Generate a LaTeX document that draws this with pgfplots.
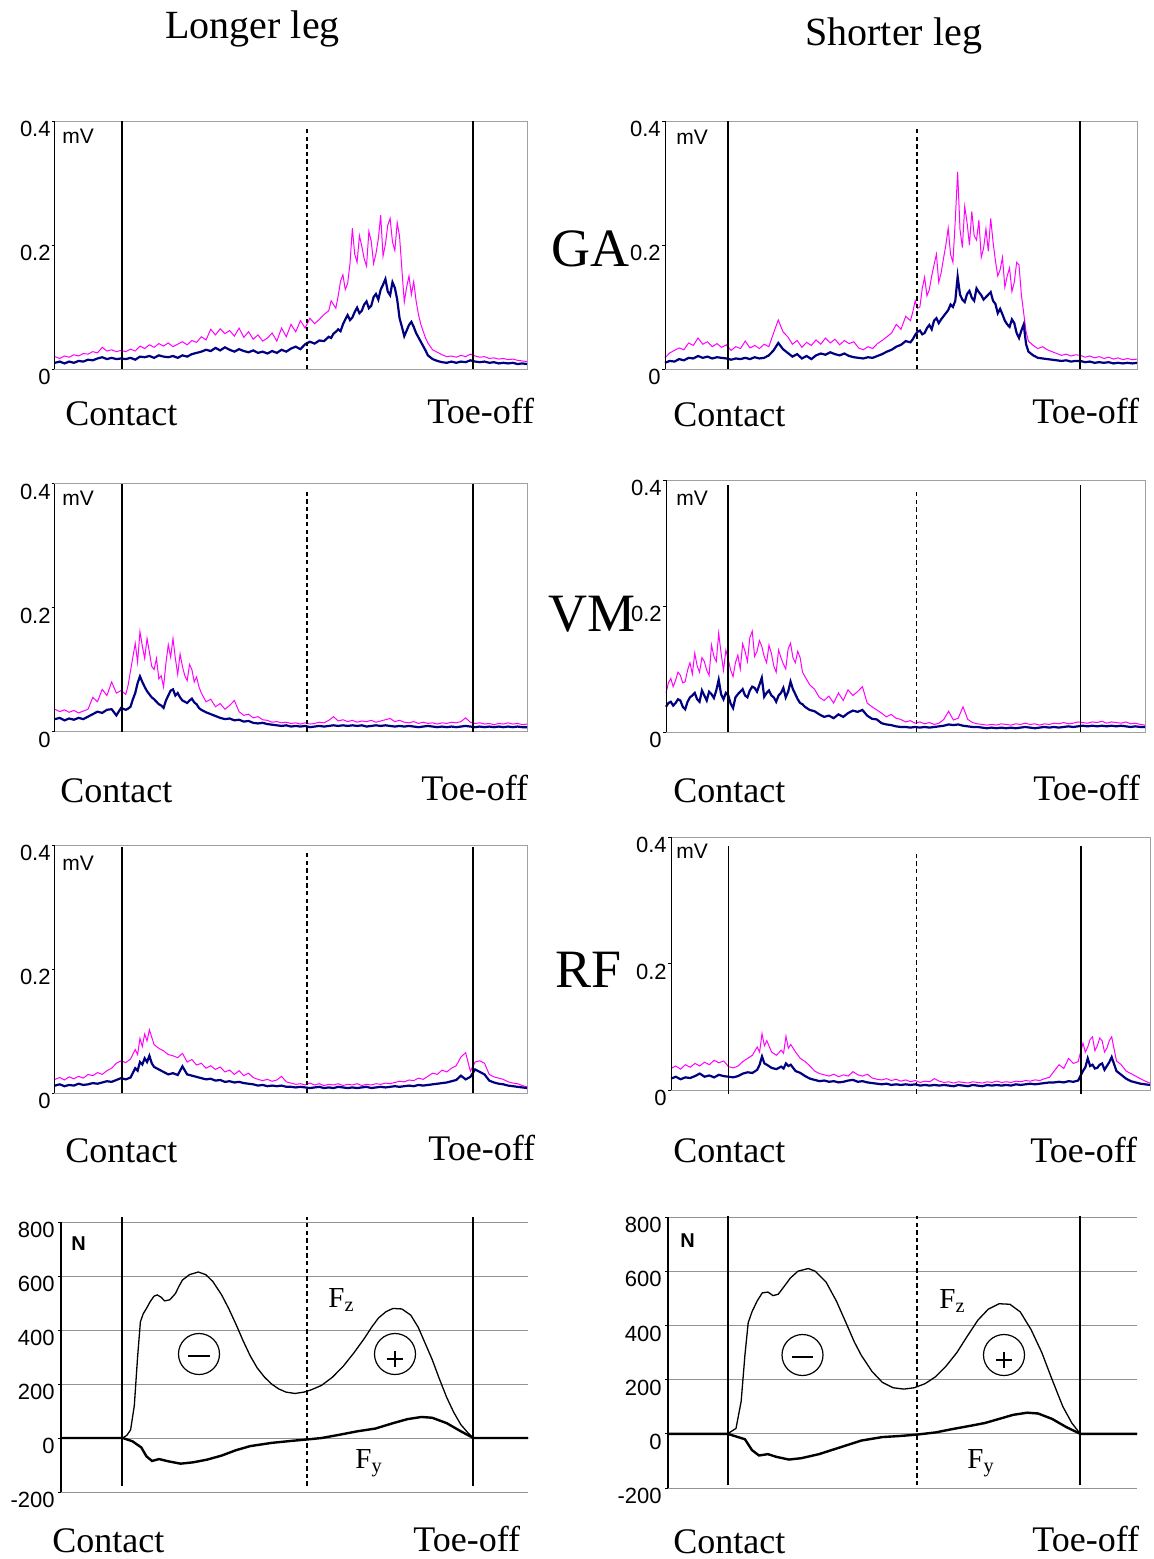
\documentclass[border=0pt]{standalone}
\usepackage{fontspec}
\setmainfont{Liberation Serif}
\newfontfamily\arial{Liberation Sans}
\usepackage{pgfplots}
\usepackage{pgfplotstable}
\pgfplotsset{compat=1.18}
\definecolor{navy}{RGB}{0,0,128}
\definecolor{emgpink}{RGB}{255,0,255}
\definecolor{framegray}{RGB}{160,160,160}

% EMG envelopes, x = % of panel width, m = magenta trace, n = navy trace (mV)
\pgfplotstableread{
x m n
0 0.020 0.010
1 0.017 0.012
2 0.021 0.009
3 0.019 0.012
4 0.023 0.010
5 0.021 0.013
6 0.025 0.012
7 0.024 0.015
8 0.028 0.014
9 0.026 0.017
10 0.035 0.019
11 0.029 0.016
12 0.031 0.018
13 0.028 0.016
14 0.030 0.017
15 0.028 0.016
16 0.032 0.018
17 0.029 0.015
18 0.037 0.020
19 0.033 0.019
20 0.039 0.021
21 0.035 0.018
22 0.041 0.022
23 0.037 0.020
24 0.042 0.019
25 0.036 0.021
26 0.040 0.018
27 0.044 0.022
28 0.039 0.020
29 0.046 0.024
30 0.043 0.026
31 0.052 0.028
32 0.047 0.031
33 0.064 0.029
34 0.055 0.034
35 0.065 0.030
36 0.057 0.035
37 0.062 0.031
38 0.053 0.028
39 0.066 0.032
40 0.051 0.029
41 0.060 0.027
42 0.048 0.030
43 0.055 0.026
44 0.045 0.028
45 0.050 0.025
46 0.058 0.029
47 0.045 0.026
48 0.066 0.031
49 0.052 0.028
50 0.072 0.033
51 0.060 0.036
52 0.078 0.032
53 0.066 0.040
54 0.082 0.044
55 0.073 0.041
56 0.080 0.046
57 0.088 0.045
58 0.094 0.052
58.5 0.110 0.050
59 0.104 0.057
59.5 0.098 0.060
60 0.118 0.064
60.5 0.142 0.061
61 0.152 0.072
61.5 0.128 0.080
62 0.138 0.087
62.5 0.170 0.079
63 0.227 0.083
63.5 0.185 0.092
64 0.172 0.099
64.5 0.215 0.090
65 0.198 0.094
65.5 0.178 0.104
66 0.166 0.109
66.5 0.222 0.098
67 0.206 0.102
67.5 0.170 0.116
68 0.186 0.121
68.5 0.210 0.112
69 0.248 0.128
69.5 0.182 0.136
70 0.201 0.145
70.5 0.232 0.125
71 0.243 0.119
71.5 0.205 0.140
72 0.191 0.131
72.5 0.236 0.112
73 0.214 0.082
73.5 0.160 0.068
74 0.108 0.053
74.5 0.132 0.062
75 0.150 0.071
75.5 0.120 0.076
76 0.141 0.068
76.5 0.110 0.058
77 0.088 0.051
77.5 0.072 0.044
78 0.061 0.037
78.5 0.050 0.030
79 0.042 0.022
80 0.031 0.016
81 0.027 0.013
82 0.023 0.011
83 0.020 0.010
84 0.021 0.012
85 0.019 0.010
86 0.022 0.012
87 0.020 0.011
88 0.024 0.014
89 0.021 0.012
90 0.019 0.011
91 0.020 0.012
92 0.017 0.010
93 0.018 0.011
94 0.016 0.009
95 0.017 0.010
96 0.015 0.009
97 0.016 0.010
98 0.014 0.008
99 0.013 0.009
100 0.012 0.008
}\gaL

\pgfplotstableread{
x m n
0 0.018 0.010
1 0.026 0.013
2 0.030 0.012
3 0.034 0.016
4 0.031 0.014
5 0.042 0.018
6 0.038 0.017
7 0.050 0.021
8 0.040 0.018
9 0.044 0.020
10 0.036 0.017
11 0.041 0.019
12 0.035 0.018
13 0.039 0.017
14 0.030 0.015
15 0.036 0.017
16 0.033 0.016
17 0.045 0.018
18 0.034 0.016
19 0.038 0.019
20 0.033 0.017
21 0.040 0.018
22 0.036 0.022
23 0.058 0.030
24 0.079 0.042
25 0.060 0.032
26 0.052 0.026
27 0.040 0.020
28 0.046 0.024
29 0.035 0.017
30 0.043 0.021
31 0.038 0.016
32 0.047 0.022
33 0.040 0.025
34 0.050 0.023
35 0.042 0.027
36 0.048 0.024
37 0.039 0.022
38 0.046 0.025
39 0.041 0.021
40 0.044 0.019
41 0.034 0.018
42 0.031 0.017
43 0.036 0.019
44 0.033 0.018
45 0.041 0.021
46 0.046 0.024
47 0.052 0.028
48 0.058 0.031
49 0.072 0.036
50 0.064 0.039
51 0.085 0.045
52 0.078 0.043
52.5 0.092 0.048
53 0.110 0.055
53.5 0.098 0.060
54 0.100 0.062
54.5 0.130 0.056
55 0.148 0.058
55.5 0.118 0.066
56 0.128 0.071
56.5 0.150 0.064
57 0.168 0.078
57.5 0.185 0.082
58 0.140 0.074
58.5 0.155 0.080
59 0.178 0.085
59.5 0.200 0.090
60 0.227 0.095
60.5 0.185 0.104
61 0.172 0.100
61.5 0.240 0.110
62 0.318 0.149
62.5 0.225 0.120
63 0.196 0.112
63.5 0.262 0.108
64 0.236 0.121
64.5 0.200 0.126
65 0.254 0.115
65.5 0.215 0.110
66 0.208 0.130
66.5 0.240 0.124
67 0.180 0.119
67.5 0.195 0.112
68 0.226 0.116
68.5 0.190 0.120
69 0.243 0.124
69.5 0.205 0.110
70 0.175 0.105
70.5 0.150 0.090
71 0.160 0.097
71.5 0.180 0.088
72 0.132 0.078
72.5 0.150 0.072
73 0.163 0.068
73.5 0.125 0.080
74 0.140 0.074
74.5 0.172 0.058
75 0.168 0.050
75.5 0.120 0.062
76 0.090 0.072
76.5 0.060 0.040
77 0.045 0.028
78 0.038 0.022
79 0.033 0.018
80 0.036 0.017
81 0.031 0.016
82 0.028 0.015
83 0.025 0.014
84 0.022 0.013
85 0.024 0.014
86 0.021 0.012
87 0.023 0.013
88 0.022 0.013
89 0.019 0.011
90 0.021 0.012
91 0.018 0.010
92 0.020 0.011
93 0.017 0.010
94 0.019 0.011
95 0.016 0.009
96 0.018 0.010
97 0.015 0.009
98 0.017 0.010
99 0.015 0.009
100 0.016 0.010
}\gaR

\pgfplotstableread{
x m n
0 0.036 0.020
1 0.032 0.022
2 0.035 0.018
3 0.031 0.021
4 0.034 0.019
5 0.030 0.022
6 0.033 0.020
7 0.036 0.024
8 0.055 0.028
9 0.048 0.032
10 0.068 0.030
11 0.058 0.035
12 0.080 0.036
13 0.062 0.026
14 0.066 0.038
15 0.060 0.035
15.5 0.075 0.037
16 0.098 0.040
16.5 0.120 0.052
17 0.142 0.062
17.5 0.112 0.078
18 0.161 0.089
18.5 0.138 0.080
19 0.118 0.072
19.5 0.150 0.065
20 0.128 0.060
20.5 0.105 0.055
21 0.100 0.052
21.5 0.118 0.048
22 0.085 0.044
22.5 0.090 0.042
23 0.072 0.038
23.5 0.110 0.050
24 0.140 0.058
24.5 0.120 0.066
25 0.150 0.068
25.5 0.118 0.058
26 0.092 0.062
26.5 0.125 0.055
27 0.105 0.050
27.5 0.090 0.048
28 0.082 0.046
28.5 0.108 0.050
29 0.100 0.053
29.5 0.080 0.047
30 0.088 0.044
30.5 0.072 0.038
31 0.062 0.035
32 0.048 0.031
33 0.052 0.028
34 0.040 0.025
35 0.045 0.022
36 0.036 0.020
37 0.042 0.021
38 0.050 0.018
39 0.032 0.019
40 0.026 0.016
41 0.028 0.017
42 0.022 0.014
43 0.024 0.013
44 0.019 0.014
45 0.018 0.012
46 0.015 0.011
47 0.016 0.010
48 0.014 0.009
49 0.015 0.010
50 0.013 0.008
51 0.014 0.009
52 0.012 0.008
53 0.014 0.009
54 0.012 0.007
55 0.013 0.008
56 0.015 0.009
57 0.014 0.008
58 0.018 0.009
59 0.024 0.010
60 0.017 0.009
61 0.019 0.010
62 0.016 0.009
63 0.018 0.010
64 0.015 0.009
65 0.017 0.010
66 0.016 0.008
67 0.018 0.009
68 0.015 0.010
69 0.017 0.009
70 0.019 0.010
71 0.021 0.009
72 0.016 0.008
73 0.018 0.009
74 0.015 0.008
75 0.014 0.009
76 0.016 0.008
77 0.013 0.007
78 0.015 0.008
79 0.013 0.009
80 0.014 0.008
81 0.012 0.007
82 0.014 0.008
83 0.013 0.007
84 0.015 0.008
85 0.014 0.007
86 0.016 0.008
87 0.022 0.009
88 0.015 0.008
89 0.013 0.007
90 0.014 0.008
91 0.012 0.007
92 0.013 0.008
93 0.011 0.007
94 0.013 0.008
95 0.012 0.007
96 0.014 0.008
97 0.012 0.007
98 0.013 0.008
99 0.011 0.007
100 0.012 0.007
}\vmL

\pgfplotstableread{
x m n
0 0.062 0.040
0.5 0.078 0.046
1 0.085 0.048
1.5 0.072 0.042
2 0.082 0.046
2.5 0.095 0.052
3 0.090 0.050
3.5 0.078 0.040
4 0.080 0.036
4.5 0.098 0.048
5 0.110 0.055
5.5 0.092 0.058
6 0.125 0.062
6.5 0.105 0.052
7 0.095 0.048
7.5 0.118 0.066
8 0.112 0.058
8.5 0.098 0.050
9 0.090 0.064
9.5 0.138 0.060
10 0.120 0.054
10.5 0.112 0.066
11 0.157 0.083
11.5 0.125 0.060
12 0.098 0.052
12.5 0.130 0.062
13 0.115 0.058
13.5 0.098 0.045
14 0.088 0.038
14.5 0.110 0.055
15 0.122 0.060
15.5 0.100 0.064
16 0.140 0.068
16.5 0.128 0.058
17 0.112 0.055
17.5 0.150 0.066
18 0.160 0.072
18.5 0.120 0.070
19 0.128 0.064
19.5 0.145 0.075
20 0.136 0.086
20.5 0.120 0.056
21 0.110 0.062
21.5 0.138 0.066
22 0.125 0.058
22.5 0.105 0.055
23 0.095 0.048
23.5 0.130 0.058
24 0.118 0.062
24.5 0.108 0.070
25 0.100 0.055
25.5 0.132 0.064
26 0.141 0.080
26.5 0.118 0.068
27 0.110 0.060
27.5 0.128 0.052
28 0.118 0.046
28.5 0.095 0.044
29 0.088 0.040
30 0.075 0.035
31 0.068 0.033
32 0.055 0.028
33 0.050 0.024
34 0.057 0.026
35 0.046 0.022
36 0.062 0.028
37 0.050 0.024
38 0.067 0.030
39 0.058 0.034
40 0.064 0.032
41 0.072 0.035
42 0.046 0.026
43 0.040 0.021
44 0.035 0.020
45 0.030 0.014
46 0.024 0.012
47 0.028 0.011
48 0.022 0.009
49 0.020 0.008
50 0.016 0.008
51 0.018 0.007
52 0.014 0.008
53 0.016 0.007
54 0.013 0.008
55 0.015 0.007
56 0.012 0.008
57 0.014 0.009
58 0.020 0.010
59 0.033 0.012
60 0.019 0.011
61 0.022 0.012
62 0.040 0.010
63 0.020 0.009
64 0.015 0.008
65 0.013 0.008
66 0.012 0.007
67 0.011 0.006
68 0.012 0.007
69 0.011 0.006
70 0.013 0.007
71 0.012 0.006
72 0.011 0.007
73 0.013 0.006
74 0.012 0.007
75 0.014 0.008
76 0.012 0.007
77 0.013 0.006
78 0.011 0.007
79 0.013 0.008
80 0.012 0.007
81 0.014 0.008
82 0.013 0.007
83 0.015 0.008
84 0.013 0.009
85 0.014 0.008
86 0.016 0.009
87 0.015 0.010
88 0.014 0.009
89 0.016 0.010
90 0.015 0.009
91 0.017 0.010
92 0.014 0.009
93 0.016 0.010
94 0.015 0.009
95 0.014 0.010
96 0.016 0.009
97 0.013 0.008
98 0.014 0.009
99 0.012 0.008
100 0.011 0.008
}\vmR

\pgfplotstableread{
x m n
0 0.022 0.012
1 0.025 0.014
2 0.021 0.011
3 0.026 0.013
4 0.023 0.012
5 0.027 0.015
6 0.024 0.013
7 0.030 0.014
8 0.028 0.016
9 0.033 0.015
10 0.030 0.017
11 0.036 0.019
12 0.040 0.018
13 0.048 0.021
14 0.052 0.024
15 0.049 0.022
16 0.055 0.025
17 0.070 0.040
17.5 0.062 0.036
18 0.088 0.050
18.5 0.075 0.046
19 0.095 0.056
19.5 0.084 0.050
20 0.102 0.060
20.5 0.090 0.048
21 0.078 0.042
22 0.072 0.038
23 0.068 0.034
24 0.062 0.030
25 0.060 0.032
26 0.057 0.029
27 0.064 0.043
28 0.050 0.030
29 0.054 0.028
30 0.045 0.026
31 0.048 0.024
32 0.040 0.022
33 0.044 0.023
34 0.038 0.020
35 0.042 0.021
36 0.034 0.018
37 0.037 0.019
38 0.030 0.017
39 0.036 0.018
40 0.028 0.016
41 0.032 0.015
42 0.025 0.014
43 0.022 0.012
44 0.020 0.013
45 0.022 0.011
46 0.019 0.012
47 0.021 0.011
48 0.027 0.012
49 0.018 0.010
50 0.016 0.010
51 0.014 0.009
52 0.015 0.010
53 0.013 0.009
54 0.016 0.008
55 0.013 0.009
56 0.015 0.010
57 0.012 0.008
58 0.014 0.009
59 0.013 0.008
60 0.015 0.010
61 0.012 0.009
62 0.014 0.008
63 0.013 0.009
64 0.015 0.008
65 0.012 0.009
66 0.014 0.010
67 0.013 0.008
68 0.015 0.009
69 0.014 0.010
70 0.016 0.009
71 0.015 0.010
72 0.017 0.011
73 0.019 0.010
74 0.018 0.011
75 0.021 0.012
76 0.020 0.011
77 0.024 0.013
78 0.022 0.012
79 0.027 0.013
80 0.032 0.014
81 0.030 0.015
82 0.037 0.016
83 0.034 0.017
84 0.040 0.019
85 0.044 0.021
86 0.058 0.028
87 0.065 0.022
88 0.035 0.026
89 0.050 0.038
90 0.052 0.034
91 0.048 0.030
92 0.030 0.020
93 0.026 0.017
94 0.024 0.015
95 0.022 0.014
96 0.018 0.012
97 0.016 0.011
98 0.015 0.010
99 0.012 0.009
100 0.010 0.008
}\rfL

\pgfplotstableread{
x m n
0 0.034 0.018
1 0.038 0.021
2 0.033 0.017
3 0.040 0.020
4 0.036 0.019
5 0.042 0.022
6 0.038 0.026
7 0.044 0.021
8 0.040 0.023
9 0.047 0.020
10 0.043 0.024
11 0.046 0.022
12 0.037 0.021
13 0.035 0.020
14 0.038 0.022
15 0.045 0.026
16 0.050 0.028
17 0.055 0.027
18 0.068 0.032
18.5 0.060 0.040
19 0.089 0.053
19.5 0.070 0.042
20 0.078 0.040
21 0.060 0.035
22 0.055 0.033
23 0.063 0.037
23.5 0.058 0.034
24 0.085 0.042
24.5 0.066 0.038
25 0.072 0.040
26 0.060 0.030
27 0.050 0.027
28 0.045 0.022
29 0.038 0.018
30 0.030 0.016
31 0.026 0.014
32 0.024 0.015
33 0.022 0.013
34 0.025 0.014
35 0.021 0.012
36 0.024 0.013
37 0.022 0.015
38 0.029 0.016
39 0.024 0.013
40 0.022 0.014
41 0.025 0.012
42 0.019 0.011
43 0.017 0.010
44 0.016 0.009
45 0.018 0.010
46 0.015 0.008
47 0.017 0.009
48 0.014 0.008
49 0.016 0.009
50 0.013 0.008
51 0.015 0.009
52 0.012 0.007
53 0.014 0.008
54 0.013 0.007
55 0.018 0.008
56 0.014 0.007
57 0.012 0.008
58 0.013 0.007
59 0.011 0.006
60 0.013 0.008
61 0.012 0.007
62 0.011 0.006
63 0.013 0.008
64 0.012 0.007
65 0.011 0.006
66 0.013 0.008
67 0.012 0.007
68 0.014 0.008
69 0.012 0.007
70 0.013 0.008
71 0.012 0.007
72 0.014 0.009
73 0.013 0.008
74 0.015 0.009
75 0.014 0.010
76 0.016 0.009
77 0.015 0.010
78 0.018 0.011
79 0.020 0.012
80 0.030 0.012
81 0.040 0.013
82 0.034 0.012
83 0.050 0.014
84 0.042 0.013
85 0.045 0.015
86 0.074 0.030
86.5 0.060 0.036
87 0.068 0.050
87.5 0.080 0.038
88 0.084 0.040
88.5 0.062 0.034
89 0.070 0.035
89.5 0.082 0.040
90 0.078 0.042
90.5 0.060 0.032
91 0.066 0.038
91.5 0.078 0.044
92 0.084 0.052
93 0.046 0.030
94 0.040 0.024
95 0.030 0.018
96 0.026 0.014
97 0.022 0.012
98 0.018 0.010
99 0.014 0.009
100 0.011 0.008
}\rfR

\pgfplotsset{
  ticknum/.style={font=\arial\fontsize{11}{12}\selectfont, anchor=north east, inner sep=0pt},
  emg/.style={
    scale only axis, anchor=south west, clip=false,
    xmin=0, xmax=100, ymin=0, ymax=0.4,
    xtick=\empty, ytick={0,0.2,0.4}, yticklabels={0,0.2,0.4},
    ytick pos=left, tick align=outside, major tick length=1.5pt,
    tick style={black, line width=0.4pt},
    axis line style={draw=framegray, line width=0.5pt},
    yticklabel style={ticknum, xshift=-0.5pt},
  },
  force/.style={
    scale only axis, anchor=south west, clip=false,
    xmin=0, xmax=100, ymin=-200, ymax=800,
    xtick=\empty, ytick={-200,0,200,400,600,800},
    yticklabels={-200,0,200,400,600,800},
    ytick pos=left, tick align=outside, major tick length=1.5pt,
    tick style={black, line width=0.4pt},
    axis line style={draw=none},
    ymajorgrids, grid style={gray!85, line width=0.5pt},
    yticklabel style={ticknum, xshift=-1.5pt},
  },
}

% contact, mid-stance (dashed), toe-off, solid top, dashed top, bottom
\newcommand{\phases}[6]{%
  \draw[black, line width=0.5pt] (axis cs:0,0) -- (axis cs:0,0.4);
  \draw[black, line width=0.65pt] (axis cs:#1,#6) -- (axis cs:#1,#4);
  \draw[black, line width=0.65pt, dash pattern=on 2.2pt off 1.6pt] (axis cs:#2,#6) -- (axis cs:#2,#5);
  \draw[black, line width=0.65pt] (axis cs:#3,#6) -- (axis cs:#3,#4);
}
\newcommand{\emgtraces}[1]{%
  \addplot[emgpink, line width=0.5pt] table[x=x, y=m] {#1};
  \addplot[navy, line width=1.1pt] table[x=x, y=n] {#1};
}

\tikzset{
  phcap/.style={font=\fontsize{18}{18}\selectfont, anchor=base west, inner sep=0pt},
  coltitle/.style={font=\fontsize{20}{20}\selectfont, anchor=base west, inner sep=0pt},
  muscle/.style={font=\fontsize{27}{27}\selectfont, anchor=base west, inner sep=0pt},
  unitlab/.style={font=\arial\fontsize{10.5}{11}\selectfont, anchor=base west, inner sep=0pt},
  forcelab/.style={font=\fontsize{14.5}{15}\selectfont, anchor=base west, inner sep=0pt},
}

\begin{document}
\begin{tikzpicture}[x=0.5pt, y=0.5pt]
\path[use as bounding box] (0,0) rectangle (1154,-1559);

% ---- GA ----
\begin{axis}[emg, at={(27.5pt,-184.5pt)}, width=236pt, height=124pt]
  \emgtraces{\gaL}
  \phases{14.19}{53.39}{88.56}{0.4}{0.391}{0}
\end{axis}
\begin{axis}[emg, at={(332.5pt,-184.5pt)}, width=236pt, height=124pt]
  \emgtraces{\gaR}
  \phases{13.35}{53.39}{87.92}{0.4}{0.391}{0}
\end{axis}

% ---- VM ----
\begin{axis}[emg, at={(27.5pt,-365.75pt)}, width=236pt, height=124pt]
  \emgtraces{\vmL}
  \phases{14.19}{53.39}{88.56}{0.4}{0.39}{0}
\end{axis}
\begin{axis}[emg, at={(333pt,-366pt)}, width=239.5pt, height=126pt]
  \emgtraces{\vmR}
  \phases{12.94}{52.32}{86.53}{0.392}{0.385}{0}
\end{axis}

% ---- RF ----
\begin{axis}[emg, at={(27.5pt,-546.5pt)}, width=236pt, height=124pt]
  \emgtraces{\rfL}
  \phases{14.19}{53.39}{88.56}{0.397}{0.39}{0}
\end{axis}
\begin{axis}[emg, at={(335.5pt,-545pt)}, width=239.5pt, height=126.5pt]
  \emgtraces{\rfR}
  \phases{12.05}{51.29}{85.6}{0.386}{0.378}{-0.006}
\end{axis}

% ---- ground reaction forces ----
\begin{axis}[force, at={(30.5pt,-746pt)}, width=233.5pt, height=135pt]
  \addplot[black, line width=0.65pt] coordinates {
    (0,0) (13.2,0) (14.1,10) (14.9,30) (15.7,120) (16.4,300) (17.0,430) (17.6,460)
    (18.3,480) (19.1,505) (19.9,525) (20.6,530) (21.4,522) (22.2,508) (23.3,512)
    (24.5,535) (25.2,560) (26.0,585) (27.5,605) (29.4,615) (31.0,605) (32.5,580)
    (34.4,530) (35.9,480) (37.5,420) (39.0,360) (40.5,305) (42.0,260) (43.6,225)
    (45.1,200) (46.6,182) (48.2,170) (50.1,165) (52.0,170) (53.5,178) (55.8,195)
    (58.1,225) (60.4,265) (62.7,315) (65.0,370) (66.5,410) (68.0,445) (69.6,468)
    (71.1,480) (73.0,478) (74.9,455) (76.5,410) (78.0,350) (79.5,290) (81.0,220)
    (82.6,150) (84.1,95) (85.6,50) (87.2,18) (88.3,0) (100,0)};
  \addplot[black, line width=1.2pt] coordinates {
    (0,0) (13.2,0) (15.3,-12) (17.2,-35) (18.3,-68) (19.5,-85) (21.0,-78) (22.9,-86)
    (25.6,-95) (28.3,-90) (31.3,-80) (34.4,-65) (37.5,-45) (40.5,-30) (45.1,-18)
    (49.7,-10) (52.9,-5) (55.8,0) (59.6,12) (63.5,25) (67.3,35) (71.1,55) (74.2,70)
    (77.2,78) (79.5,75) (82.6,55) (85.6,25) (88.3,0) (100,0)};
  \draw[black, line width=0.6pt] (axis cs:0,-200) -- (axis cs:0,800);
  \draw[black, line width=0.65pt] (axis cs:13.06,-177) -- (axis cs:13.06,818);
  \draw[black, line width=0.65pt, dash pattern=on 2.2pt off 1.6pt] (axis cs:52.68,-177) -- (axis cs:52.68,818);
  \draw[black, line width=0.65pt] (axis cs:88.22,-177) -- (axis cs:88.22,818);
\end{axis}
\begin{axis}[force, at={(334pt,-744pt)}, width=234.5pt, height=135.5pt]
  \addplot[black, line width=0.65pt] coordinates {
    (0,0) (12.7,0) (14.5,20) (15.6,120) (16.4,290) (17.1,410) (17.9,450) (19.0,490)
    (20.1,520) (21.3,523) (22.4,510) (23.5,515) (24.6,540) (26.1,575) (27.7,600)
    (29.9,610) (31.4,600) (33.7,560) (35.9,490) (38.2,400) (39.7,340) (41.2,290)
    (43.5,230) (45.7,190) (48.0,170) (50.3,165) (52.5,170) (54.8,185) (57.0,210)
    (59.3,250) (61.6,300) (63.8,360) (66.1,420) (68.3,460) (70.6,480) (72.9,478)
    (75.1,450) (77.4,385) (79.7,300) (81.9,200) (84.2,100) (86.1,40) (87.9,0) (100,0)};
  \addplot[black, line width=1.2pt] coordinates {
    (0,0) (12.7,0) (16.4,-20) (17.9,-60) (19.4,-80) (21.3,-75) (23.1,-85) (25.8,-95)
    (28.4,-90) (32.2,-75) (36.7,-50) (41.2,-25) (45.7,-12) (49.5,-8) (53.0,-3)
    (57.0,5) (60.8,18) (64.6,30) (67.6,40) (70.6,55) (73.6,70) (76.6,78) (78.9,75)
    (81.9,55) (84.9,25) (87.9,0) (100,0)};
  \draw[black, line width=0.6pt] (axis cs:0,-200) -- (axis cs:0,800);
  \draw[black, line width=0.65pt] (axis cs:12.79,-190) -- (axis cs:12.79,804);
  \draw[black, line width=0.65pt, dash pattern=on 2.2pt off 1.6pt] (axis cs:53.09,-190) -- (axis cs:53.09,804);
  \draw[black, line width=0.65pt] (axis cs:87.85,-190) -- (axis cs:87.85,804);
\end{axis}

% ---- titles ----
\node[coltitle] at (165,-38) {Longer leg};
\node[coltitle] at (805,-45) {Shorter leg};

% ---- muscle names ----
\node[muscle] at (551,-266) {GA};
\node[muscle] at (548,-631) {VM};
\node[muscle] at (555,-987) {RF};

% ---- units ----
\node[unitlab] at (62,-143) {mV};
\node[unitlab] at (676,-144) {mV};
\node[unitlab] at (62,-505) {mV};
\node[unitlab] at (676,-505) {mV};
\node[unitlab] at (62,-870) {mV};
\node[unitlab] at (676,-858) {mV};
\node[unitlab, font=\arial\bfseries\fontsize{10}{11}\selectfont] at (71,-1250) {N};
\node[unitlab, font=\arial\bfseries\fontsize{10}{11}\selectfont] at (680,-1247) {N};

% ---- phase captions ----
\node[phcap] at (65,-425) {Contact};
\node[phcap] at (427,-423) {Toe-off};
\node[phcap] at (673,-426) {Contact};
\node[phcap] at (1032,-423) {Toe-off};
\node[phcap] at (60,-802) {Contact};
\node[phcap] at (421,-800) {Toe-off};
\node[phcap] at (673,-802) {Contact};
\node[phcap] at (1033,-800) {Toe-off};
\node[phcap] at (65,-1162) {Contact};
\node[phcap] at (428,-1160) {Toe-off};
\node[phcap] at (673,-1162) {Contact};
\node[phcap] at (1030,-1162) {Toe-off};
\node[phcap] at (52,-1552) {Contact};
\node[phcap] at (413,-1551) {Toe-off};
\node[phcap] at (673,-1553) {Contact};
\node[phcap] at (1032,-1551) {Toe-off};

% ---- force annotations ----
\node[forcelab] at (328,-1307) {F\textsubscript{z}};
\node[forcelab] at (355,-1468) {F\textsubscript{y}};
\node[forcelab] at (939,-1308) {F\textsubscript{z}};
\node[forcelab] at (967,-1468) {F\textsubscript{y}};
\draw[line width=0.6pt] (199,-1354) circle[radius=20.5];
\draw[line width=0.6pt] (188,-1356) -- (210,-1356);
\draw[line width=0.6pt] (395,-1354) circle[radius=20.5];
\draw[line width=0.6pt] (387,-1359) -- (403,-1359) (395,-1351) -- (395,-1367);
\draw[line width=0.6pt] (802.5,-1355) circle[radius=20.5];
\draw[line width=0.6pt] (792,-1357) -- (813,-1357);
\draw[line width=0.6pt] (1004,-1355) circle[radius=20.5];
\draw[line width=0.6pt] (996,-1360) -- (1012,-1360) (1004,-1352) -- (1004,-1368);
\end{tikzpicture}
\end{document}
